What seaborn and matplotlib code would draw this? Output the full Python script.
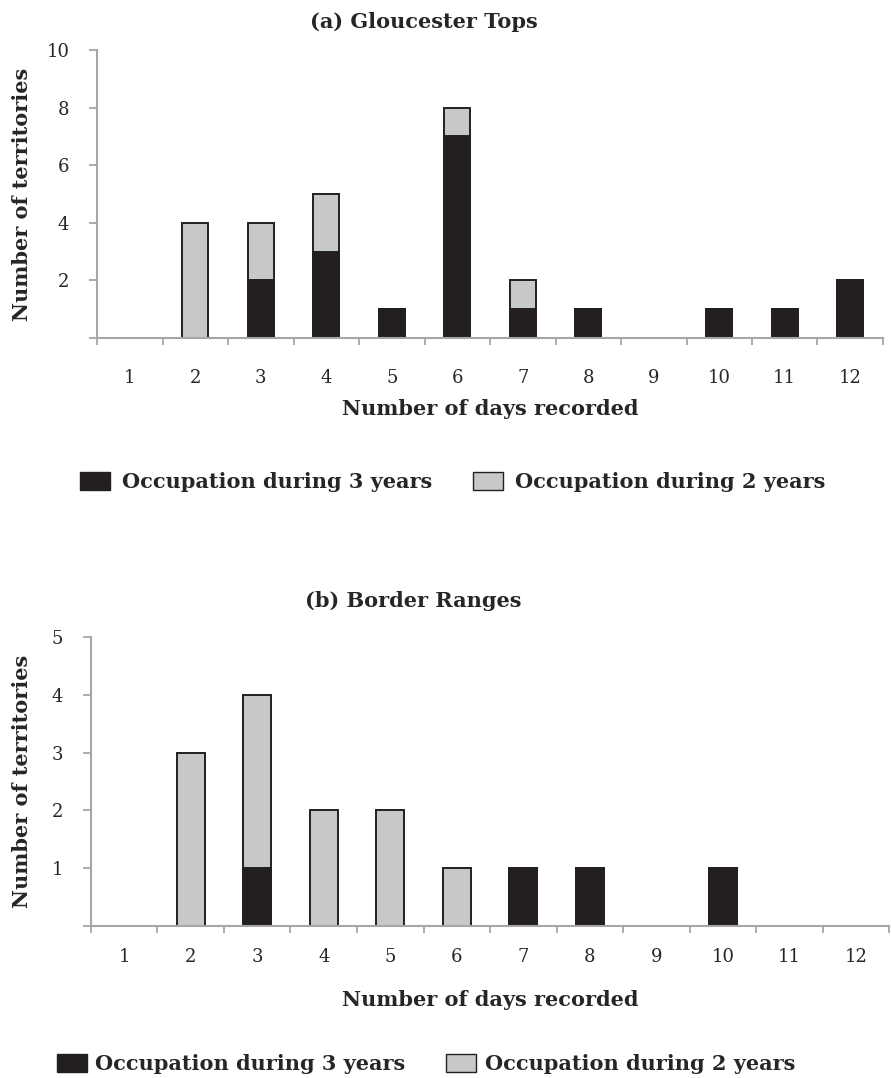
import numpy as np
import pandas as pd
import matplotlib
matplotlib.use("Agg")
import matplotlib.pyplot as plt
import seaborn as sns
from matplotlib.patches import Patch

days = ["1", "2", "3", "4", "5", "6", "7", "8", "9", "10", "11", "12"]

# (a) Gloucester Tops
gt_three_years = [0, 0, 2, 3, 1, 7, 1, 1, 0, 1, 1, 2]
gt_two_years = [0, 4, 2, 2, 0, 1, 1, 0, 0, 0, 0, 0]

# (b) Border Ranges
br_three_years = [0, 0, 1, 0, 0, 0, 1, 1, 0, 1, 0, 0]
br_two_years = [0, 3, 3, 2, 2, 1, 0, 0, 0, 0, 0, 0]

black = "#231f20"
grey = "#c7c8ca"
spine_col = "#a6a6a6"

sns.set_style("white")
plt.rcParams["font.family"] = ["DejaVu Serif"]


def stacked(ax, three, two, width, ymax, ystep, xpad, lpad, ylab_x):
    df = pd.DataFrame({"days": days, "three": three, "two": two})
    df["total"] = df["three"] + df["two"]
    df = df.replace(0, np.nan)
    sns.barplot(data=df, x="days", y="total", order=days, color=grey,
                width=width, edgecolor=black, linewidth=1.4, saturation=1,
                errorbar=None, ax=ax)
    sns.barplot(data=df, x="days", y="three", order=days, color=black,
                width=width, edgecolor=black, linewidth=1.4, saturation=1,
                errorbar=None, ax=ax)
    ax.set_xlim(-0.5, 11.5)
    ax.set_ylim(0, ymax)
    yt = np.arange(0, ymax + 0.1, ystep)
    ax.set_yticks(yt)
    ax.set_yticklabels([""] + [str(int(v)) for v in yt[1:]], fontsize=13)
    ax.set_xticks(np.arange(-0.5, 12, 1), minor=True)
    ax.tick_params(axis="x", which="major", bottom=False, length=0,
                   pad=xpad, labelsize=13)
    ax.tick_params(axis="x", which="minor", bottom=True, length=5, width=1.3,
                   color=spine_col, direction="out")
    ax.tick_params(axis="y", left=True, length=6, width=1.3, color=spine_col,
                   direction="out", pad=14)
    sns.despine(ax=ax)
    for s in ["left", "bottom"]:
        ax.spines[s].set_color(spine_col)
        ax.spines[s].set_linewidth(1.5)
    ax.set_xlabel("Number of days recorded", fontsize=15, fontweight="bold",
                  labelpad=lpad)
    ax.set_ylabel("Number of territories", fontsize=15, fontweight="bold")
    ax.yaxis.set_label_coords(ylab_x, 0.5)


fig = plt.figure(figsize=(8.91, 10.78), dpi=100)

ax1 = fig.add_axes([0.109, 0.6865, 0.882, 0.267])
stacked(ax1, gt_three_years, gt_two_years, 0.4, 10, 2, 22, 9, -0.083)
fig.text(423.5 / 891, 1 - 22 / 1078, "(a) Gloucester Tops", ha="center",
         va="center", fontsize=15, fontweight="bold")

ax2 = fig.add_axes([0.102, 0.141, 0.896, 0.268])
stacked(ax2, br_three_years, br_two_years, 0.42, 5, 1, 16, 17, -0.074)
fig.text(413 / 891, 1 - 601 / 1078, "(b) Border Ranges", ha="center",
         va="center", fontsize=15, fontweight="bold")

handles = [Patch(facecolor=black, edgecolor=black, label="Occupation during 3 years"),
           Patch(facecolor=grey, edgecolor=black, label="Occupation during 2 years")]
legend_rows = [(80, 482, 0.58, 1.95), (57, 1064, 0.4, 1.95)]
for x0, y0, tpad, cspace in legend_rows:
    fig.legend(handles=handles, loc="center left",
               bbox_to_anchor=(x0 / 891, 1 - y0 / 1078),
               ncol=2, frameon=False, prop={"size": 15, "weight": "bold"},
               borderpad=0, borderaxespad=0,
               handlelength=1.44, handleheight=0.96, columnspacing=cspace,
               handletextpad=tpad)

fig.savefig("out.png", dpi=100)
